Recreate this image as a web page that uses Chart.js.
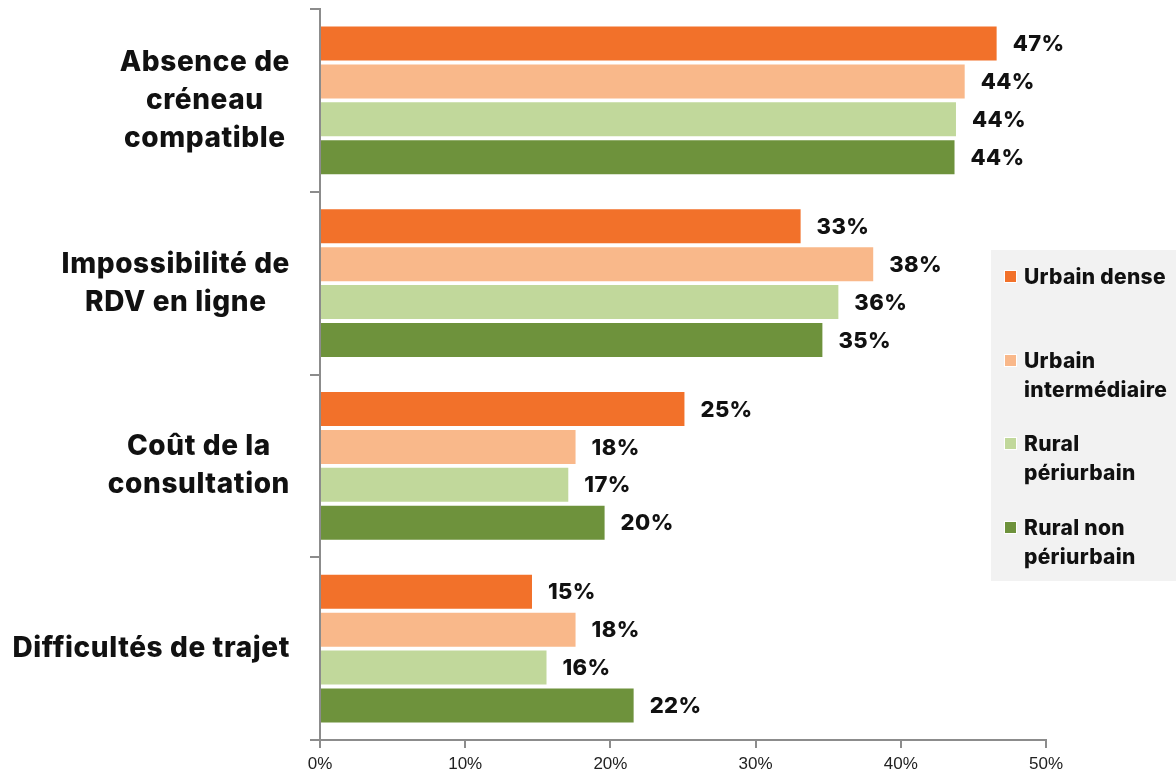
<!DOCTYPE html>
<html lang="fr">
<head>
<meta charset="utf-8">
<script src="https://cdn.jsdelivr.net/npm/chart.js@4"></script>
<style>
  html, body { margin: 0; padding: 0; background: #ffffff; }
  #wrap { position: relative; width: 1176px; height: 780px; overflow: hidden; }
  #legend {
    position: absolute; left: 991px; top: 250px; width: 185px; height: 331px;
    background: #f2f2f2; padding-top: 12px; box-sizing: border-box;
    font-family: Inter, sans-serif; font-weight: 800; font-size: 21px; color: #111;
    white-space: nowrap; letter-spacing: 0.3px;
  }
  .entry { position: relative; height: 83.5px; padding-left: 33px; line-height: 29px; }
  .entry i {
    position: absolute; left: 13px; top: 8px; width: 11px; height: 11px;
    border: 1px solid #fff;
  }
</style>
</head>
<body>
<div id="wrap">
  <canvas id="chart" width="1176" height="780"></canvas>
  <div id="legend"></div>
</div>
<script>
const categories = [
  ['Absence de', 'créneau', 'compatible'],
  ['Impossibilité de', 'RDV en ligne'],
  ['Coût de la', 'consultation'],
  ['Difficultés de trajet'],
];
const seriesNames = [
  ['Urbain dense'],
  ['Urbain', 'intermédiaire'],
  ['Rural', 'périurbain'],
  ['Rural non', 'périurbain'],
];
const seriesColors = ['#f2712a', '#f9b88a', '#c1d89b', '#6e923c'];

// share of respondents (%) per obstacle, one array per area type
const urbainDense = [46.6, 33.1, 25.1, 14.6];
const urbainInter = [44.4, 38.1, 17.6, 17.6];
const ruralPeri = [43.8, 35.7, 17.1, 15.6];
const ruralNonPeri = [43.7, 34.6, 19.6, 21.6];

const xTicks = [0, 10, 20, 30, 40, 50];

const FONT = 'Inter, sans-serif';
const AXIS_GREY = '#8c8c8c';

// category names: each block right-aligned, its lines centred
const categoryLabels = {
  id: 'categoryLabels',
  afterDraw(chart) {
    const { ctx } = chart;
    const y = chart.scales.y;
    const lineH = 38;
    ctx.save();
    ctx.font = `800 28px ${FONT}`;
    ctx.letterSpacing = '0.6px';
    ctx.fillStyle = '#111';
    ctx.textAlign = 'center';
    ctx.textBaseline = 'middle';
    categories.forEach((lines, i) => {
      const cy = y.getPixelForTick(i);
      const w = Math.max(...lines.map((l) => ctx.measureText(l).width));
      const cx = 290 - w / 2;
      const top = cy - ((lines.length - 1) * lineH) / 2;
      lines.forEach((l, k) => ctx.fillText(l, cx, top + k * lineH));
    });
    ctx.restore();
  },
};

// value labels at the end of each bar
const valueLabels = {
  id: 'valueLabels',
  afterDatasetsDraw(chart) {
    const { ctx } = chart;
    ctx.save();
    ctx.font = `800 22px ${FONT}`;
    ctx.letterSpacing = '0.4px';
    ctx.fillStyle = '#111';
    ctx.textAlign = 'left';
    ctx.textBaseline = 'middle';
    chart.data.datasets.forEach((ds, di) => {
      chart.getDatasetMeta(di).data.forEach((bar, i) => {
        ctx.fillText(`${ds.data[i].toFixed(0)}%`, bar.x + 16, bar.y + 1);
      });
    });
    ctx.restore();
  },
};

const seriesData = [urbainDense, urbainInter, ruralPeri, ruralNonPeri];

new Chart(document.getElementById('chart'), {
  type: 'bar',
  data: {
    labels: categories.map((c) => c.join(' ')),
    datasets: seriesData.map((d, i) => ({
      label: seriesNames[i].join(' '),
      data: d,
      backgroundColor: seriesColors[i],
      borderWidth: 0,
      categoryPercentage: 0.83,
      barPercentage: 0.895,
    })),
  },
  options: {
    indexAxis: 'y',
    responsive: false,
    animation: false,
    layout: { padding: { top: 9, right: 130, left: 0, bottom: 0 } },
    plugins: {
      legend: { display: false },
      tooltip: { enabled: false },
    },
    scales: {
      x: {
        min: 0,
        max: 50,
        afterBuildTicks(scale) {
          scale.ticks = xTicks.map((v) => ({ value: v }));
        },
        afterFit(scale) { scale.height = 40; },
        border: { color: AXIS_GREY, width: 2 },
        grid: { drawOnChartArea: false, drawTicks: true, tickLength: 8, color: AXIS_GREY, lineWidth: 2 },
        ticks: {
          color: '#222',
          padding: 6,
          font: { family: 'Liberation Sans, Arial, sans-serif', size: 17 },
          callback: (v) => `${v}%`,
        },
      },
      y: {
        afterFit(scale) { scale.width = 320; },
        border: { color: AXIS_GREY, width: 2 },
        grid: { drawOnChartArea: false, drawTicks: true, tickLength: 10, color: AXIS_GREY, lineWidth: 2 },
        ticks: { display: false },
      },
    },
  },
  plugins: [categoryLabels, valueLabels],
});

// legend built from the series names and colours
const legend = document.getElementById('legend');
seriesNames.forEach((lines, i) => {
  const row = document.createElement('div');
  row.className = 'entry';
  const mark = document.createElement('i');
  mark.style.background = seriesColors[i];
  row.appendChild(mark);
  lines.forEach((l, k) => {
    if (k) row.appendChild(document.createElement('br'));
    row.appendChild(document.createTextNode(l));
  });
  legend.appendChild(row);
});
</script>
</body>
</html>
